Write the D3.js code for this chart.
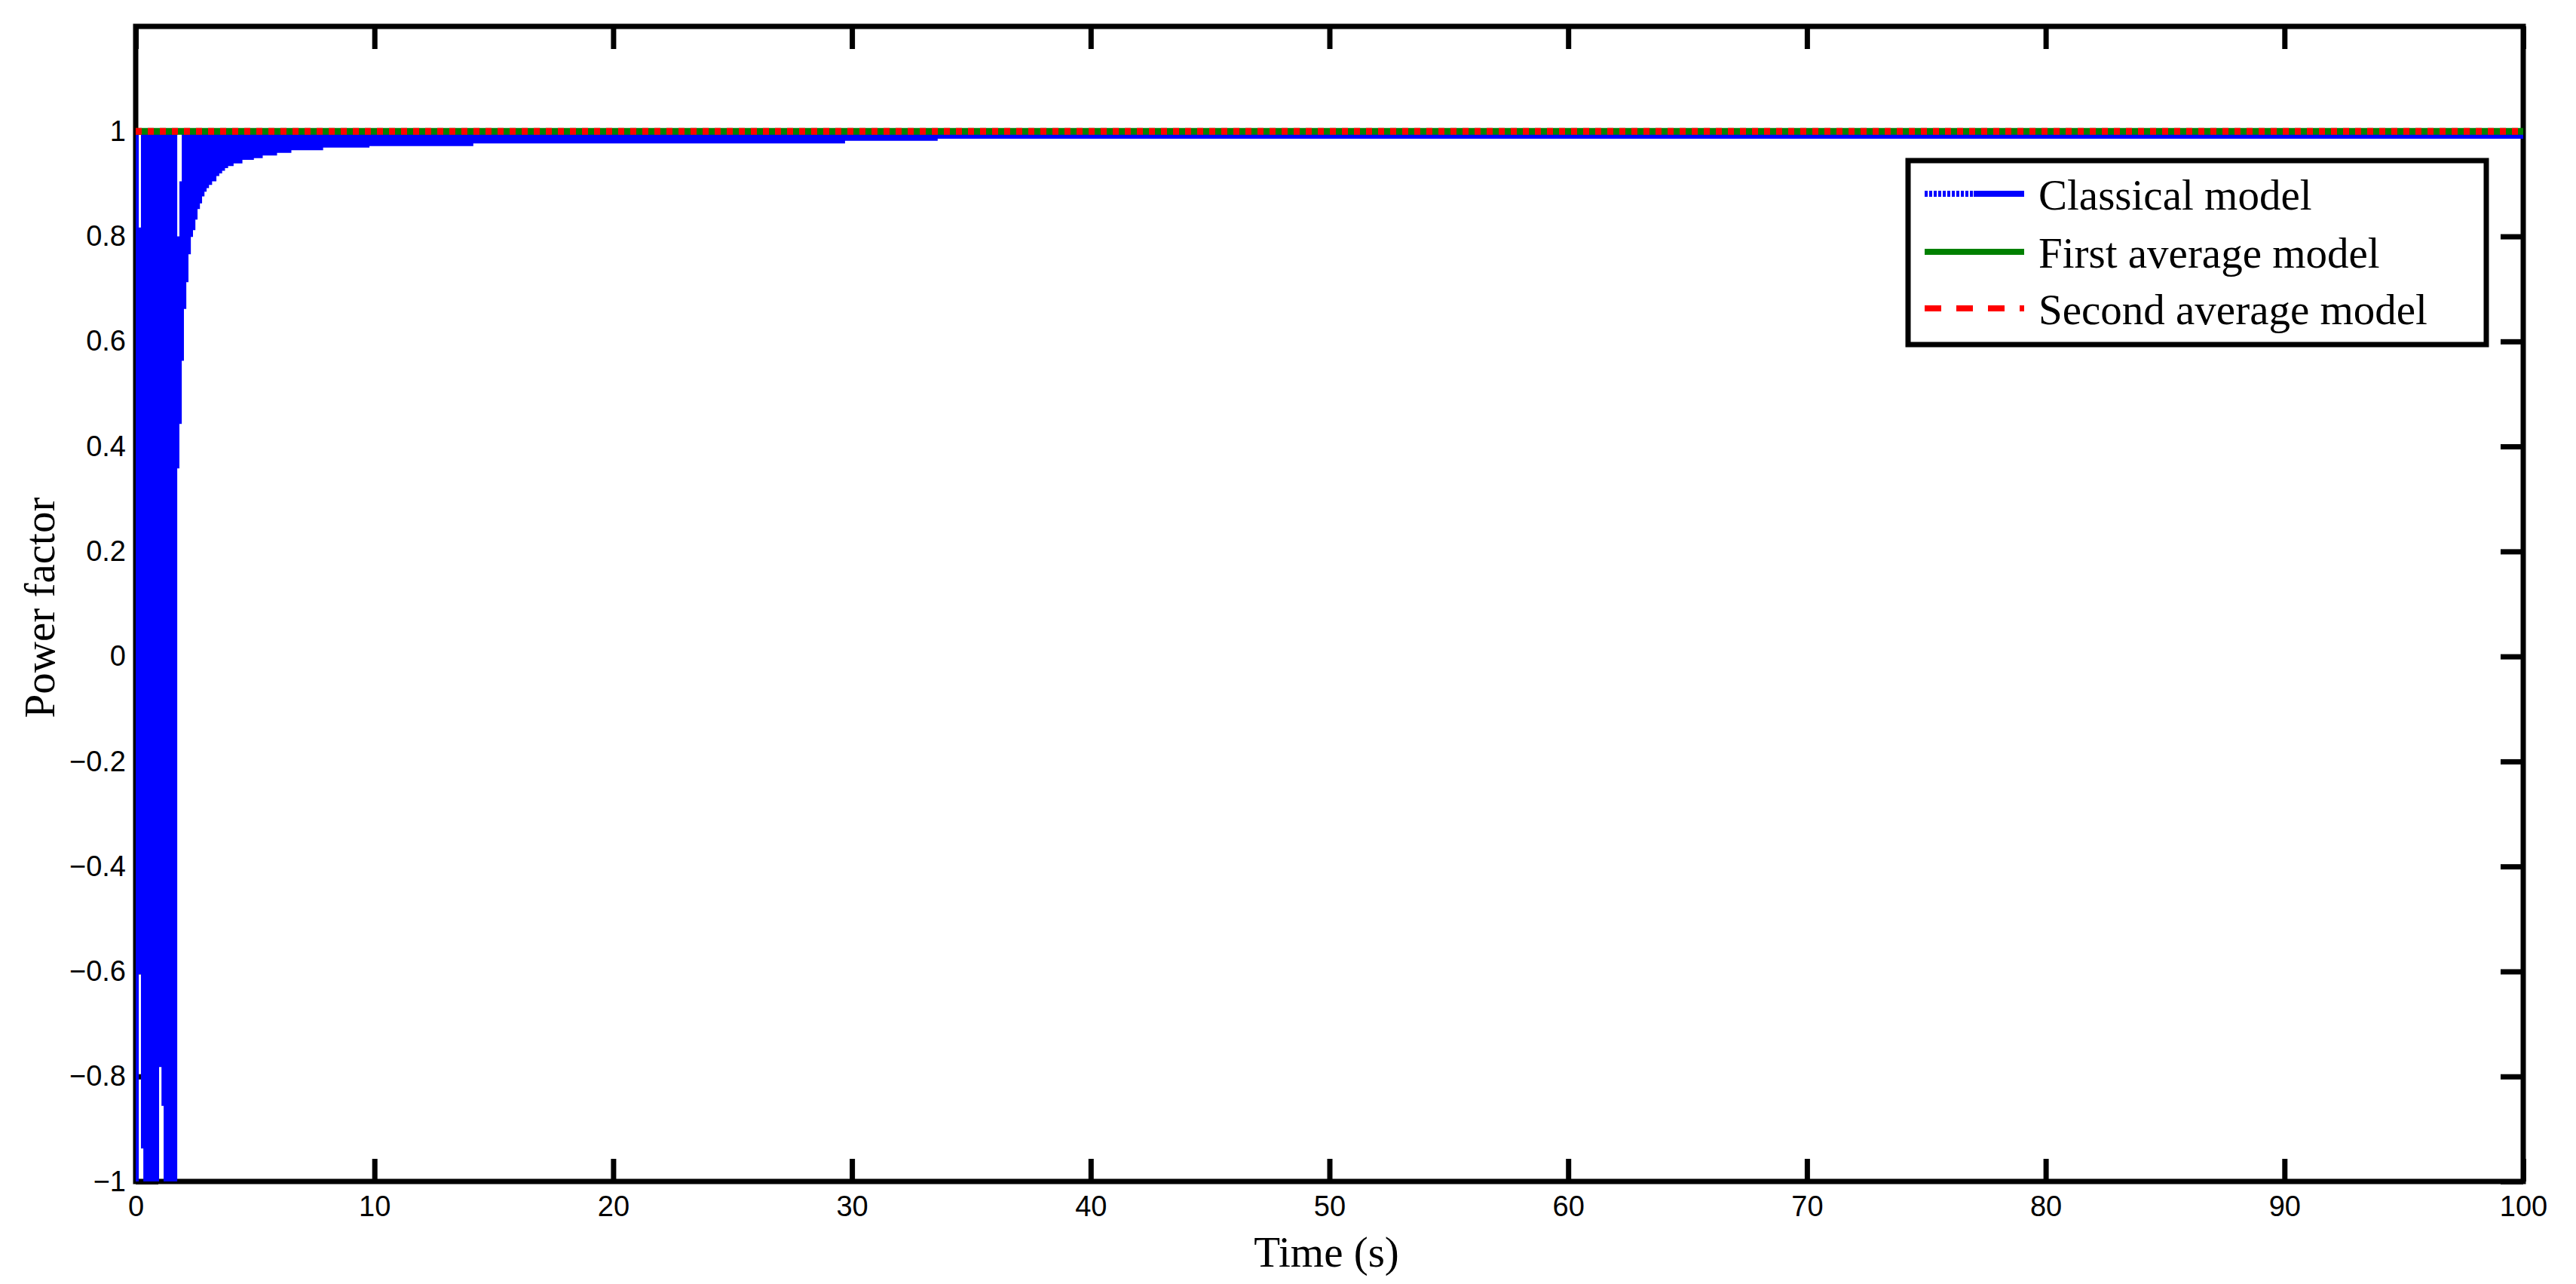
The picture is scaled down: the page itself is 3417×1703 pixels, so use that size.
<!DOCTYPE html>
<html>
<head>
<meta charset="utf-8">
<script src="https://cdn.jsdelivr.net/npm/d3@7"></script>
<style>
  body { margin: 0; background: #fff; }
</style>
</head>
<body>
<div id="chart"></div>
<script>
// tick values and labels
const xTicks = [0, 10, 20, 30, 40, 50, 60, 70, 80, 90, 100];
const xTickLabels = ["0", "10", "20", "30", "40", "50", "60", "70", "80", "90", "100"];
const yTicks = [-1, -0.8, -0.6, -0.4, -0.2, 0, 0.2, 0.4, 0.6, 0.8, 1];
const yTickLabels = ["\u22121", "\u22120.8", "\u22120.6", "\u22120.4", "\u22120.2", "0", "0.2", "0.4", "0.6", "0.8", "1"];

// classical model: fast oscillation, kept as min / max per sample window
const classicalTime = [0, 0.13, 0.22, 0.32, 0.98, 1.08, 1.17, 1.74, 1.83, 1.93, 2.02, 2.12, 2.21, 2.31,
  2.40, 2.50, 2.59, 2.69, 2.78, 2.88, 2.97, 3.07, 3.20, 3.38, 3.50, 3.62, 3.74, 3.87, 4.10, 4.47,
  4.95, 5.32, 5.92, 6.52, 7.85, 9.79, 14.14, 29.71, 33.59, 100];
const classicalMin = [-1, -0.605, -0.937, -1, -0.782, -0.856, -1, 0.358, 0.443, 0.563, 0.662, 0.713, 0.766, 0.799,
  0.812, 0.832, 0.852, 0.863, 0.876, 0.885, 0.892, 0.898, 0.905, 0.915, 0.920, 0.925, 0.930, 0.934, 0.939, 0.946,
  0.949, 0.954, 0.959, 0.964, 0.969, 0.972, 0.977, 0.982, 0.986, 0.986];
const classicalMax = [1, 0.817, 1, 1, 1, 1, 1, 0.800, 0.905, 1, 1, 1, 1, 1,
  1, 1, 1, 1, 1, 1, 1, 1, 1, 1, 1, 1, 1, 1, 1, 1,
  1, 1, 1, 1, 1, 1, 1, 1, 1, 1];

// the two average models sit on unity power factor
const firstAvgTime = [0, 100];
const firstAvgValue = [1, 1];
const secondAvgTime = [0, 100];
const secondAvgValue = [1, 1];

const legendLabels = ["Classical model", "First average model", "Second average model"];

const width = 3417, height = 1703;
const plot = { left: 180, right: 3347, top: 35, bottom: 1567 };

let svg = d3.select("#chart")
    .append("svg")
    .attr("width", width)
    .attr("height", height)
    .style("background", "#fff");

let x = d3.scaleLinear().domain([0, 100]).range([plot.left, plot.right]);
let y = d3.scaleLinear().domain([-1, 1.2]).range([plot.bottom, plot.top]);

const tickFont = "'Liberation Sans', Arial, Helvetica, sans-serif";
const serifFont = "'Liberation Serif', 'Times New Roman', serif";

function styleAxis(g) {
    g.select(".domain").remove();
    g.selectAll(".tick line").attr("stroke", "#000").attr("stroke-width", 7);
    g.selectAll(".tick text").attr("fill", "#000");
    g.attr("font-family", tickFont).attr("font-size", 38);
}

// box
svg.append("rect")
    .attr("x", plot.left)
    .attr("y", plot.top)
    .attr("width", plot.right - plot.left)
    .attr("height", plot.bottom - plot.top)
    .attr("fill", "none")
    .attr("stroke", "#000")
    .attr("stroke-width", 7);

// bottom axis
svg.append("g")
    .attr("transform", `translate(0, ${plot.bottom})`)
    .call(d3.axisBottom(x).tickValues(xTicks).tickFormat((d, i) => xTickLabels[i])
        .tickSizeInner(-30).tickSizeOuter(0).tickPadding(19))
    .call(styleAxis);

// top axis (ticks only)
svg.append("g")
    .attr("transform", `translate(0, ${plot.top})`)
    .call(d3.axisTop(x).tickValues(xTicks).tickFormat("")
        .tickSizeInner(-30).tickSizeOuter(0))
    .call(styleAxis);

// left axis
svg.append("g")
    .attr("transform", `translate(${plot.left}, 0)`)
    .call(d3.axisLeft(y).tickValues(yTicks).tickFormat((d, i) => yTickLabels[i])
        .tickSizeInner(-30).tickSizeOuter(0).tickPadding(13))
    .call(styleAxis);

// right axis (ticks only)
svg.append("g")
    .attr("transform", `translate(${plot.right}, 0)`)
    .call(d3.axisRight(y).tickValues(yTicks).tickFormat("")
        .tickSizeInner(-30).tickSizeOuter(0))
    .call(styleAxis);

// axis titles
svg.append("text")
    .attr("x", (plot.left + plot.right) / 2 - 4)
    .attr("y", 1680)
    .attr("text-anchor", "middle")
    .attr("font-family", serifFont)
    .attr("font-size", 57)
    .text("Time (s)");

svg.append("text")
    .attr("transform", `translate(72, ${(plot.top + plot.bottom) / 2 + 5}) rotate(-90)`)
    .attr("text-anchor", "middle")
    .attr("font-family", serifFont)
    .attr("font-size", 57)
    .text("Power factor");

// data
svg.append("clipPath").attr("id", "plotclip")
    .append("rect")
    .attr("x", plot.left - 5).attr("y", plot.top)
    .attr("width", plot.right - plot.left + 5).attr("height", plot.bottom - plot.top);

let dataG = svg.append("g").attr("clip-path", "url(#plotclip)");

let classical = classicalTime.map((t, i) => ({ t: t, lo: classicalMin[i], hi: classicalMax[i] }));
let classicalArea = d3.area()
    .x(d => x(d.t))
    .y0(d => y(d.lo))
    .y1(d => y(d.hi))
    .curve(d3.curveStepAfter);

dataG.append("path")
    .datum(classical)
    .attr("d", classicalArea)
    .attr("fill", "#0000ff");

let line = d3.line().x(d => x(d[0])).y(d => y(d[1]));

dataG.append("path")
    .datum(firstAvgTime.map((t, i) => [t, firstAvgValue[i]]))
    .attr("d", line)
    .attr("fill", "none")
    .attr("stroke", "#008000")
    .attr("stroke-width", 9);

dataG.append("path")
    .datum(secondAvgTime.map((t, i) => [t, secondAvgValue[i]]))
    .attr("d", line)
    .attr("fill", "none")
    .attr("stroke", "#ff0000")
    .attr("stroke-width", 9)
    .attr("stroke-dasharray", "8,8");

// legend
let legend = svg.append("g");
legend.append("rect")
    .attr("x", 2531).attr("y", 213)
    .attr("width", 767).attr("height", 244)
    .attr("fill", "#fff")
    .attr("stroke", "#000")
    .attr("stroke-width", 7);

const legendY = [257, 334, 409];
const lx0 = 2553, lx1 = 2685;

// classical: dense samples show as a striped start
legend.append("line")
    .attr("x1", lx0).attr("x2", 2618).attr("y1", legendY[0]).attr("y2", legendY[0])
    .attr("stroke", "#0000ff").attr("stroke-width", 8).attr("stroke-dasharray", "4,2");
legend.append("line")
    .attr("x1", 2618).attr("x2", lx1).attr("y1", legendY[0]).attr("y2", legendY[0])
    .attr("stroke", "#0000ff").attr("stroke-width", 8);
legend.append("line")
    .attr("x1", lx0).attr("x2", lx1).attr("y1", legendY[1]).attr("y2", legendY[1])
    .attr("stroke", "#008000").attr("stroke-width", 8);
legend.append("line")
    .attr("x1", lx0).attr("x2", lx1).attr("y1", legendY[2]).attr("y2", legendY[2])
    .attr("stroke", "#ff0000").attr("stroke-width", 8).attr("stroke-dasharray", "22,20");

legend.selectAll("text.leg")
    .data(legendLabels)
    .enter()
    .append("text")
    .attr("class", "leg")
    .attr("x", 2704)
    .attr("y", (d, i) => legendY[i] + 21)
    .attr("font-family", serifFont)
    .attr("font-size", 57)
    .text(d => d);
</script>
</body>
</html>
